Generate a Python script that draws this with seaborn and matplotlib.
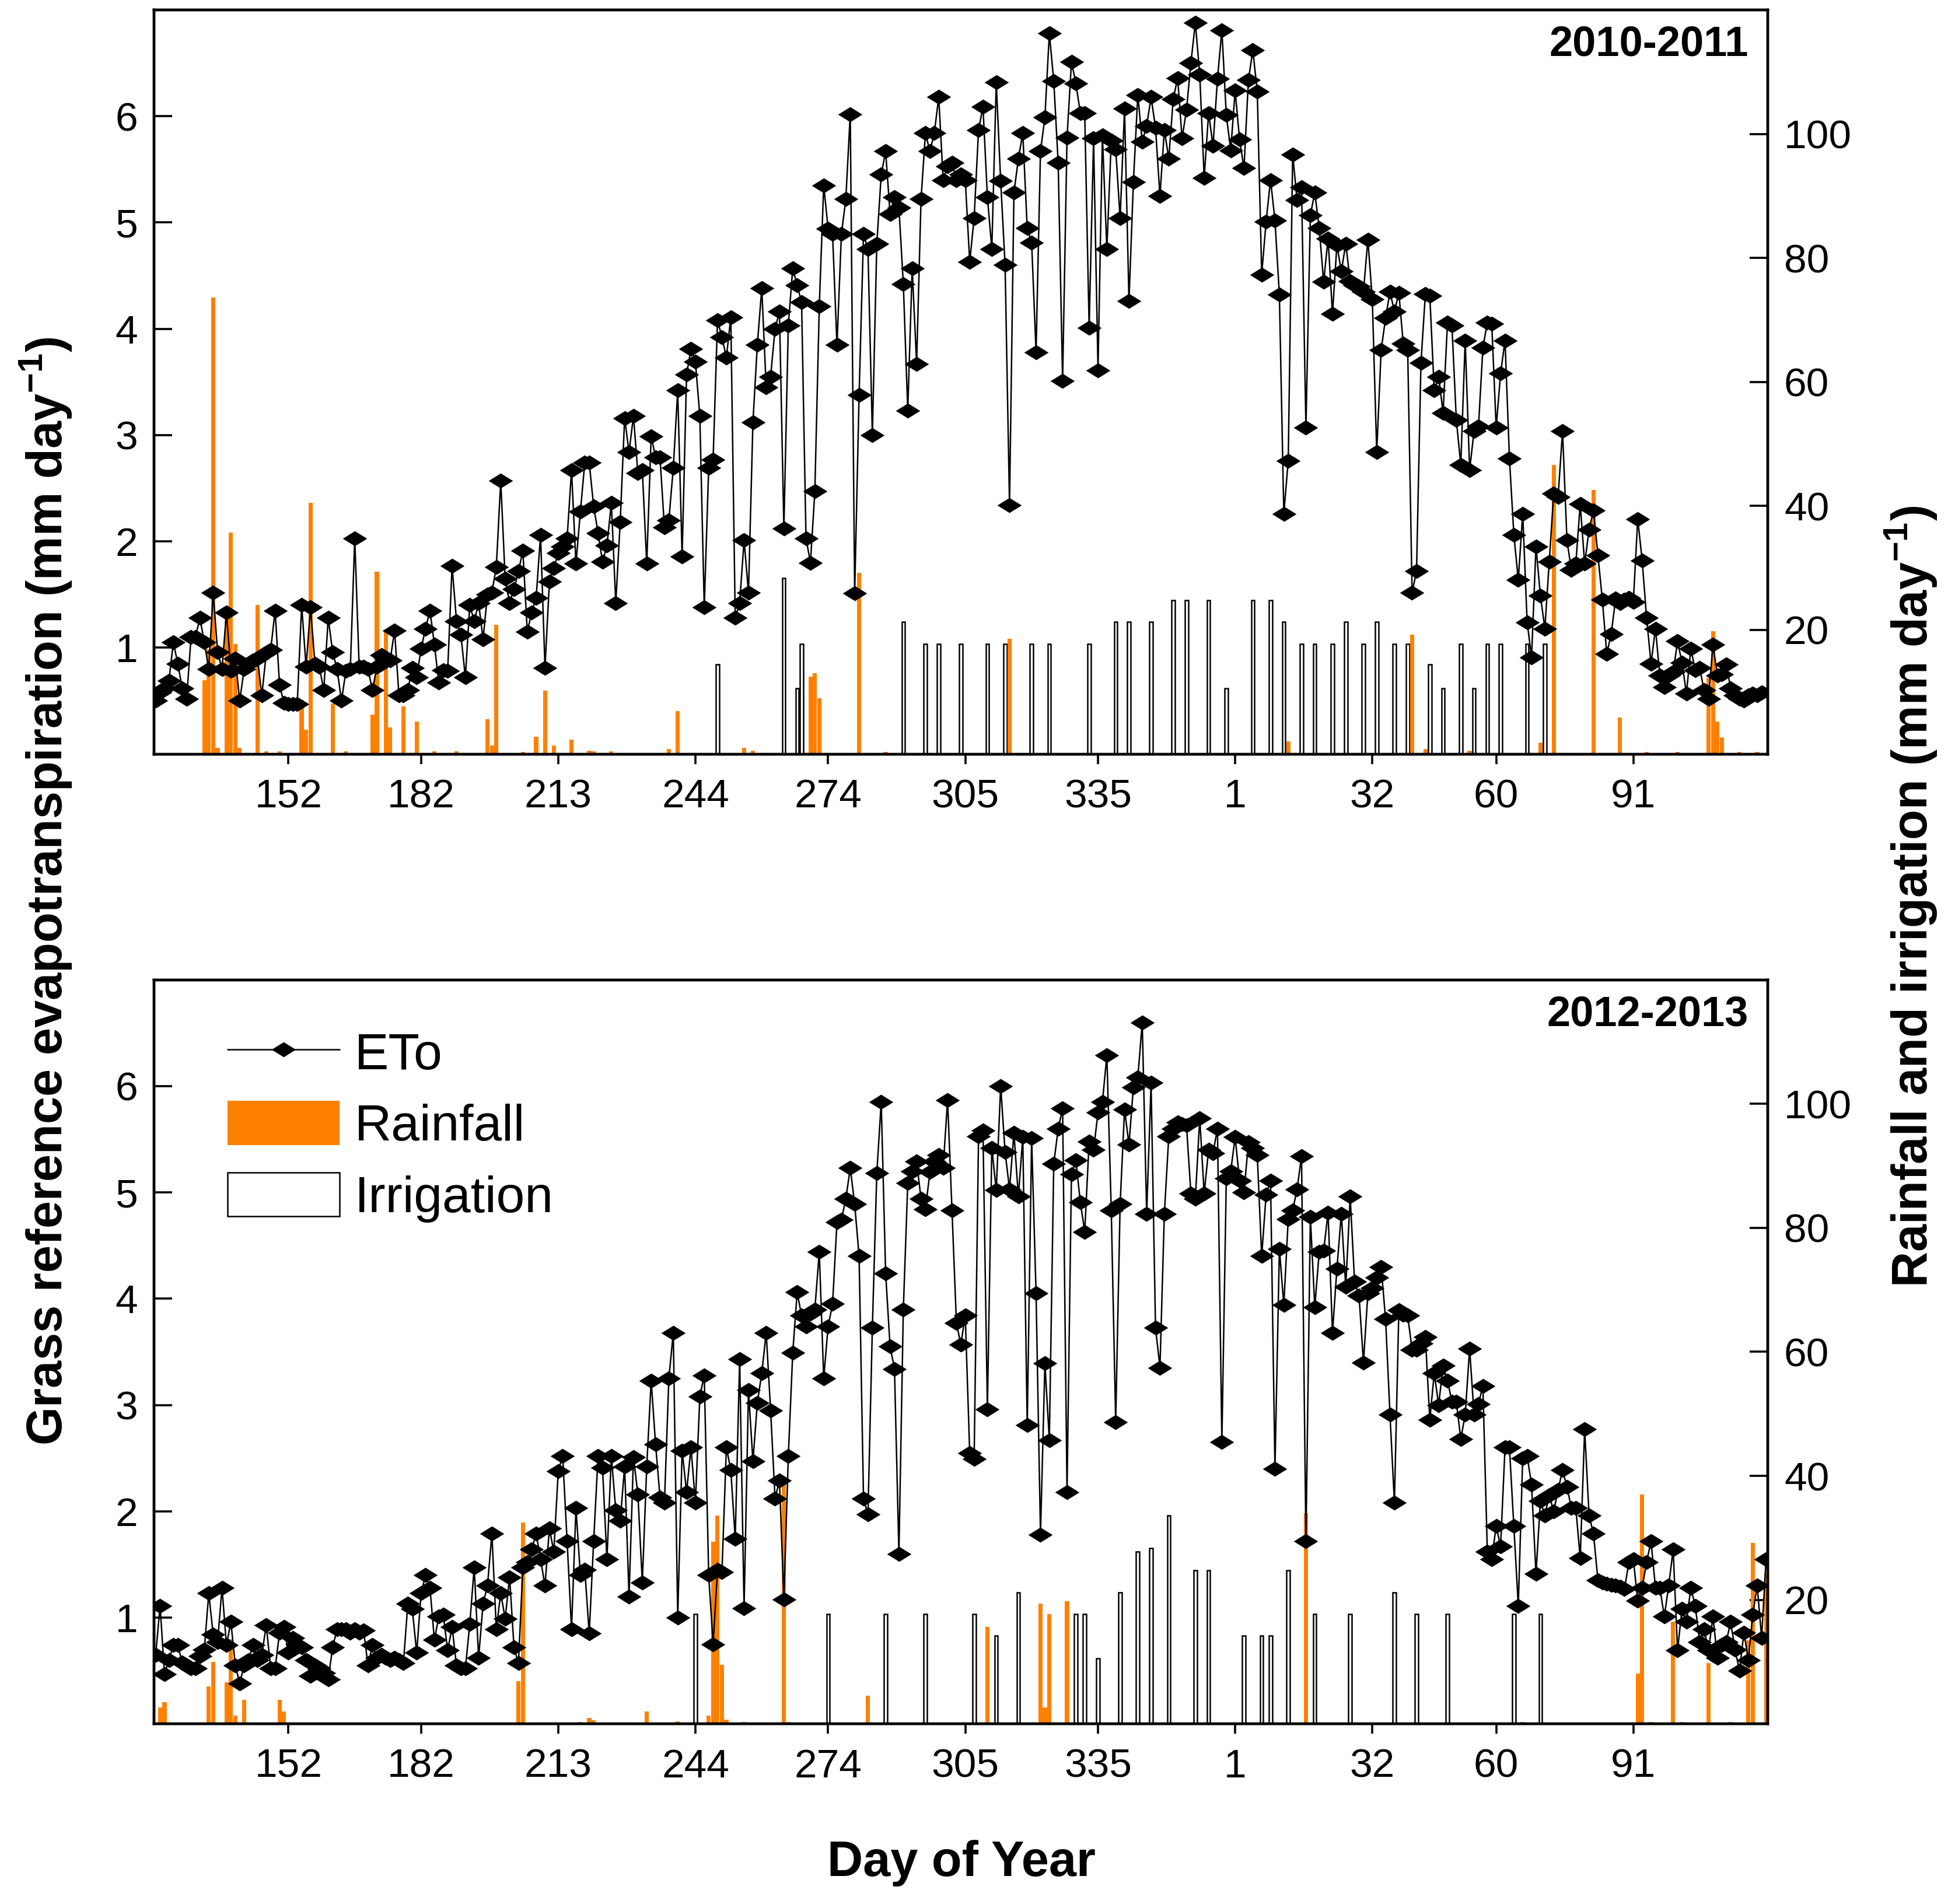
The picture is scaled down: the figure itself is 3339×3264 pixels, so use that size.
import numpy as np
import matplotlib
matplotlib.use("Agg")
import matplotlib.pyplot as plt
from matplotlib.patches import Patch
from matplotlib.lines import Line2D
from matplotlib.path import Path
import seaborn as sns

sns.set_theme(style="ticks")
plt.rcParams['font.family'] = ['Liberation Sans', 'DejaVu Sans']
plt.rcParams['mathtext.fontset'] = 'custom'
plt.rcParams['mathtext.rm'] = 'Liberation Sans'
plt.rcParams['mathtext.bf'] = 'Liberation Sans:bold'
for k in ('text.color', 'axes.labelcolor', 'xtick.color', 'ytick.color', 'axes.edgecolor'):
    plt.rcParams[k] = 'black'

# ---------------- data ----------------
START_DAY = 122  # first day of record (day of year, continuing past 365 into the next year)

eto_2010 = [
    0.50, 0.58, 0.62, 0.69, 1.05, 0.85, 0.62, 0.52, 1.10, 1.10,
    1.28, 1.05, 0.80, 1.52, 0.96, 0.80, 1.33, 0.78, 0.90, 0.50,
    0.80, 0.85, 0.88, 0.90, 0.55, 0.95, 0.98, 1.35, 0.65, 0.48,
    0.47, 0.47, 0.47, 1.40, 0.82, 1.38, 0.85, 0.82, 0.60, 1.28,
    0.96, 0.80, 0.50, 0.78, 0.80, 2.03, 0.82, 0.82, 0.80, 0.60,
    0.82, 0.93, 0.90, 0.88, 1.16, 0.55, 0.55, 0.60, 0.81, 0.72,
    0.99, 1.18, 1.35, 1.03, 0.67, 0.79, 0.78, 1.77, 1.25, 1.12,
    0.72, 1.40, 1.25, 1.42, 1.08, 1.50, 1.52, 1.76, 2.57, 1.65,
    1.42, 1.55, 1.72, 1.91, 1.15, 1.33, 1.47, 2.06, 0.81, 1.62, 1.75,
    1.89, 1.95, 2.03, 2.67, 1.79, 2.28, 2.74, 2.74, 2.33, 2.08,
    1.81, 1.96, 2.36, 1.42, 2.18, 3.16, 2.84, 3.18, 2.64, 2.67,
    1.79, 2.99, 2.79, 2.79, 2.13, 2.20, 2.69, 3.42, 1.86, 3.57,
    3.81, 3.69, 3.18, 1.38, 2.69, 2.77, 4.08, 3.92, 3.73, 4.11,
    1.28, 1.42, 2.01, 1.52, 3.12, 3.85, 4.38, 3.45, 3.55, 4.00,
    4.16, 2.12, 4.03, 4.57, 4.41, 4.25, 2.03, 1.80, 2.47, 4.21,
    5.35, 4.94, 4.89, 3.85, 4.89, 5.22, 6.02, 1.51, 3.38, 4.89,
    4.75, 3.00, 4.80, 5.45, 5.67, 5.08, 5.24, 5.14, 4.42, 3.23,
    4.57, 3.67, 5.22, 5.84, 5.67, 5.84, 6.18, 5.40, 5.53, 5.56,
    5.40, 5.45,
    5.40, 4.63, 5.04, 5.87, 6.09, 5.24, 4.75, 6.32, 5.39, 4.60,
    2.34, 5.28, 5.60, 5.84, 4.95, 4.81, 3.78, 5.67, 5.99, 6.78,
    6.33, 5.56, 3.51, 5.80, 6.51, 6.31, 6.03, 6.03, 4.01, 5.79,
    3.61, 5.82, 4.75, 5.77, 5.69, 5.04, 6.07, 4.26, 5.38, 6.20,
    5.76, 5.91, 6.18, 5.89, 5.25, 5.87, 5.60, 6.16, 6.36, 5.79,
    6.06, 6.50, 6.88, 6.39, 5.42, 6.03, 5.72, 6.35, 6.81, 6.01,
    5.68, 6.24, 5.78, 5.51, 6.34, 6.62, 6.23, 4.51, 5.01, 5.40,
    5.02, 4.32, 2.26, 2.76, 5.64, 5.21, 5.33, 3.07, 5.07, 5.28,
    4.95, 4.44, 4.85, 4.14, 4.79, 4.54, 4.80, 4.45, 4.41, 4.40,
    4.35, 4.84, 4.28, 2.84,
    3.80, 4.10,
    4.35, 4.16, 4.34, 3.86, 3.80, 1.52, 1.72, 3.68, 4.33, 4.31,
    3.42, 3.55, 3.21, 4.06, 4.03, 3.14, 2.72, 3.89, 2.67, 3.04,
    3.08, 3.82, 4.06, 4.05, 3.07, 3.58, 3.89, 2.78, 2.06, 1.64,
    2.26, 1.24, 0.91, 1.95, 1.49, 1.18, 1.81, 2.45, 2.42, 3.04,
    2.01, 1.73, 1.79, 2.35, 1.79, 2.11, 2.29, 1.87, 1.45, 0.94,
    1.13, 1.46, 1.42, 1.45, 1.47, 1.43, 2.21, 1.82, 1.28, 0.85,
    1.18, 0.74, 0.63, 0.74, 0.77, 1.06, 0.86, 0.57, 0.99, 0.79,
    0.81, 0.60, 0.52, 1.03, 0.74, 0.75, 0.84, 0.62, 0.55, 0.52,
    0.50, 0.55, 0.57, 0.55, 0.58,
]

eto_2012 = [
    0.65, 1.11, 0.47, 0.60, 0.74, 0.74, 0.58, 0.55, 0.52, 0.52,
    0.64, 0.70, 1.23, 0.84, 0.77, 1.28, 0.74, 0.96, 0.55, 0.38,
    0.55, 0.60, 0.74, 0.60, 0.65, 0.93, 0.52, 0.52, 0.86, 0.91,
    0.67, 0.81, 0.75, 0.72, 0.60, 0.45, 0.55, 0.52, 0.48, 0.42,
    0.72, 0.89, 0.89, 0.89, 0.86, 0.89, 0.86, 0.88, 0.55, 0.74,
    0.62, 0.65, 0.62, 0.60, 0.62, 0.60, 0.57, 1.13, 1.08, 0.67,
    1.23, 1.40, 1.28, 0.79, 1.01, 1.03, 0.69, 0.91, 0.55, 0.52,
    0.52, 0.94, 1.47, 0.62, 1.13, 1.30, 1.79, 0.89, 1.23, 0.99,
    1.38, 0.72, 0.57, 1.47, 1.52, 1.64, 1.79, 1.55, 1.30, 1.84,
    1.62, 2.38, 2.52,
    1.72, 0.89, 2.03, 1.40, 1.45, 0.85, 1.72, 2.52, 2.41, 1.55,
    2.52, 2.01, 1.91, 2.42, 1.20, 2.51, 2.16, 1.33, 2.42, 3.23,
    2.63, 2.13, 2.08, 3.25, 3.68, 1.00, 2.57, 2.18, 2.60, 2.08,
    3.08, 3.28, 1.40, 0.75, 1.45, 1.43, 2.60, 2.39, 1.74, 3.43,
    1.09, 3.14, 2.47, 3.02, 3.30, 3.68, 2.95, 2.12, 2.29, 1.17,
    2.52, 3.49, 4.06, 3.84, 3.74, 3.86, 3.90, 4.44, 3.25, 3.74,
    3.95, 4.72, 4.74, 4.94, 5.23, 4.89, 4.40, 2.12, 1.97, 3.73,
    5.18, 5.85, 4.24, 3.55, 3.34, 1.60, 3.90, 5.09, 5.20, 5.29,
    4.94, 4.84, 5.19, 5.29, 5.35, 5.23, 5.87, 4.83, 3.77, 3.57,
    3.84, 2.55,
    2.49, 5.53, 5.58, 2.96, 5.42, 5.02, 6.00, 5.38, 5.03, 5.56,
    4.96, 5.52, 2.81, 5.51, 4.05, 1.78, 3.39, 2.67, 5.27, 5.60,
    5.79, 2.18, 5.17, 5.30, 4.91, 4.63, 5.48, 5.40, 5.75, 5.85,
    6.29, 4.83, 2.84, 4.89, 5.78, 5.45, 5.99, 6.08, 6.60, 4.80,
    6.03, 3.73, 3.35, 4.80, 5.53, 5.60, 5.66, 5.64, 5.63, 4.99,
    4.94, 5.70, 4.99, 5.40, 5.37, 5.60, 2.65, 5.13, 5.20, 5.52,
    5.11, 5.00, 5.47, 5.42, 5.35, 4.40, 4.98, 5.11, 2.40, 4.47,
    3.94, 4.75, 4.83, 5.03, 5.34, 1.72, 4.77, 3.92, 4.44, 4.45,
    4.81, 3.68, 4.28, 4.80, 4.11, 4.96, 4.16, 4.03, 3.40, 4.05,
    4.10, 4.20, 4.30, 3.81, 2.91, 2.08, 3.89, 3.85, 3.84, 3.52,
    3.52, 3.58, 3.64, 2.86, 3.30, 3.00, 3.37, 3.23, 3.03, 3.03,
    2.68, 2.91, 3.53, 2.91, 3.01, 3.18, 1.62, 1.55, 1.86, 1.67,
    2.60, 2.60, 1.86, 1.11, 2.50, 2.52, 2.25, 1.41, 2.10, 1.96,
    2.15, 2.00, 2.20, 2.39, 2.23, 2.03, 2.03, 1.56, 2.77, 1.96,
    1.79, 1.35, 1.33, 1.32, 1.31, 1.30, 1.29, 1.27, 1.52, 1.55,
    1.16, 1.28, 1.52, 1.72, 1.28, 1.28, 1.01, 1.30, 1.64, 0.69,
    1.08, 0.96, 1.28, 1.11, 0.77, 0.89, 0.69, 1.01, 0.62, 0.74,
    0.77, 0.96, 0.70, 0.50, 0.86, 0.60, 1.03, 1.30, 0.81, 1.55,
]

rain_days_2010 = [133, 134, 135, 136, 138, 139, 140, 141, 145, 147, 150, 155, 156, 157,
                  162, 165, 171, 172, 174, 175, 178, 181, 185, 190, 197, 198, 199, 205,
                  208, 210, 212, 216, 220, 221, 225, 238, 240, 255, 257, 270, 271, 272,
                  281, 287, 315, 378, 406, 409, 419, 435, 438, 447, 453, 459, 466, 473,
                  474, 475, 476, 480, 484]
rain_mm_2010 = [11.9, 16.9, 73.6, 1.0, 22.3, 35.7, 17.7, 1.0, 24.0, 0.4, 0.4, 8.7, 3.9, 40.5,
                8.1, 0.4, 6.4, 29.4, 20.0, 4.3, 7.7, 5.2, 0.4, 0.4, 5.6, 1.4, 20.8, 0.3,
                2.8, 10.2, 1.4, 2.3, 0.5, 0.4, 0.4, 0.8, 6.9, 1.0, 0.5, 12.5, 13.0, 9.0,
                29.2, 0.3, 18.6, 2.0, 19.2, 0.8, 0.5, 1.8, 46.6, 42.6, 5.9, 0.3, 0.3, 12.3,
                19.8, 5.2, 2.7, 0.3, 0.3]
irr_days_2010 = [249, 264, 267, 268, 291, 296, 299, 304, 310, 314, 320, 324, 333, 339, 342,
                 347, 352, 355, 360, 364, 370, 374, 377, 381, 384, 388, 391, 395, 398, 402,
                 405, 410, 413, 417, 420, 423, 426, 432, 436]
irr_mm_2010 = [14.4, 28.4, 10.6, 17.7, 21.3, 17.7, 17.7, 17.7, 17.7, 17.7, 17.7, 17.7, 17.7,
               21.3, 21.3, 21.3, 24.8, 24.8, 24.8, 10.6, 24.8, 24.8, 21.3, 17.7, 17.7, 17.7,
               21.3, 17.7, 21.3, 17.7, 17.7, 14.4, 10.6, 17.7, 10.6, 17.7, 17.7, 17.7, 17.7]

rain_days_2012 = [123, 124, 134, 135, 138, 139, 140, 142, 150, 151, 204, 205, 218, 220, 221,
                  233, 240, 247, 248, 249, 250, 251, 255, 264, 265, 283, 310, 322, 323, 324,
                  328, 382, 431, 457, 458, 460, 465, 467, 473, 478, 482, 483, 486]
rain_mm_2012 = [2.7, 3.5, 6.0, 10.0, 6.7, 13.7, 1.3, 3.9, 3.9, 2.0, 6.9, 32.5, 0.3, 1.0, 0.6,
                2.0, 0.4, 1.3, 29.4, 33.6, 9.5, 0.7, 0.3, 39.3, 0.3, 4.5, 15.6, 19.4, 2.7, 17.7,
                19.8, 34.0, 0.3, 8.1, 37.0, 0.3, 16.5, 0.3, 9.8, 0.3, 13.5, 29.2, 24.2]
irr_days_2012 = [244, 274, 287, 296, 307, 312, 317, 330, 332, 335, 340, 344, 347, 351, 357,
                 360, 368, 372, 374, 378, 384, 392, 402, 407, 414, 429, 435]
irr_mm_2012 = [17.7, 17.7, 17.7, 17.7, 17.7, 14.2, 21.2, 17.7, 17.7, 10.6, 21.2, 27.8, 28.3,
               33.6, 24.8, 24.8, 14.2, 14.2, 14.2, 24.8, 17.7, 17.7, 21.2, 17.7, 17.7, 17.7, 17.7]

tick_days = [152, 182, 213, 244, 274, 305, 335, 366, 397, 425, 456]
tick_labels = ["152", "182", "213", "244", "274", "305", "335", "1", "32", "60", "91"]
eto_ticks = [1, 2, 3, 4, 5, 6]
water_ticks = [20, 40, 60, 80, 100]

# ---------------- style ----------------
RAIN = '#ff8000'
DIAMOND = Path([(-1, 0), (0, 0.62), (1, 0), (0, -0.62), (-1, 0)],
               [Path.MOVETO, Path.LINETO, Path.LINETO, Path.LINETO, Path.CLOSEPOLY])
MS = 15
TICK_FS = 25
LABEL_FS = 30.5
SPINE_LW = 1.6

fig = plt.figure(figsize=(3339 / 200, 3264 / 200), dpi=200)


def make_panel(rect, eto, rdays, rmm, idays, imm, label, legend=False):
    ax = fig.add_axes(rect)
    ax2 = ax.twinx()
    ax2.bar(idays, imm, width=0.75, facecolor='white', edgecolor='black',
            linewidth=0.9, zorder=1)
    ax2.bar(rdays, rmm, width=0.95, color=RAIN, linewidth=0, zorder=2)
    ax2.set_ylim(0, 120)
    ax2.set_yticks(water_ticks)

    days = np.arange(START_DAY, START_DAY + len(eto))
    sns.lineplot(x=days, y=eto, ax=ax, color='black', linewidth=0.9,
                 marker=DIAMOND, markersize=MS, markeredgewidth=0,
                 markerfacecolor='black', estimator=None, legend=False)
    ax.set_zorder(ax2.get_zorder() + 1)
    ax.patch.set_visible(False)

    ax.set_xlim(121.6, 486.4)
    ax.set_ylim(0, 7)
    ax.set_yticks(eto_ticks)
    ax.set_xticks(tick_days, tick_labels)
    ax.set_xlabel("")
    ax.set_ylabel("")
    ax.tick_params(axis='y', direction='in', length=11, width=1.3,
                   labelsize=TICK_FS, pad=10)
    ax.tick_params(axis='x', direction='out', length=6, width=1.3,
                   labelsize=TICK_FS, pad=9)
    ax2.tick_params(axis='y', direction='in', length=11, width=1.3,
                    labelsize=TICK_FS, pad=10)
    for a in (ax, ax2):
        for s in a.spines.values():
            s.set_visible(True)
            s.set_linewidth(SPINE_LW)
            s.set_color('black')
    ax.text(0.988, 0.953, label, transform=ax.transAxes, ha='right', va='center',
            fontsize=26, fontweight='bold')

    if legend:
        handles = [
            Line2D([0], [0], color='black', linewidth=0.9, marker=DIAMOND,
                   markersize=MS, markeredgewidth=0),
            Patch(facecolor=RAIN, edgecolor='none'),
            Patch(facecolor='white', edgecolor='black', linewidth=0.9),
        ]
        ax.legend(handles, ["ETo", "Rainfall", "Irrigation"], loc='upper left',
                  bbox_to_anchor=(0.017, 0.995), frameon=False, fontsize=31.5,
                  handlelength=2.2, handleheight=0.95, labelspacing=0.42,
                  handletextpad=0.3, numpoints=1)
    return ax, ax2


make_panel([0.079, 0.604, 0.8285, 0.3908], eto_2010, rain_days_2010, rain_mm_2010,
           irr_days_2010, irr_mm_2010, "2010-2011")
make_panel([0.079, 0.0946, 0.8285, 0.3908], eto_2012, rain_days_2012, rain_mm_2012,
           irr_days_2012, irr_mm_2012, "2012-2013", legend=True)

fig.text(0.0236, 0.532, r"Grass reference evapotranspiration (mm day$^{\mathbf{-1}}$)",
         rotation=90, ha='center', va='center', fontsize=LABEL_FS, fontweight='bold')
fig.text(0.981, 0.529, r"Rainfall and irrigation (mm day$^{\mathbf{-1}}$)",
         rotation=90, ha='center', va='center', fontsize=LABEL_FS, fontweight='bold')
fig.text(0.4936, 0.0215, "Day of Year", ha='center', va='center',
         fontsize=LABEL_FS, fontweight='bold')

fig.savefig("out.png", dpi=200)
